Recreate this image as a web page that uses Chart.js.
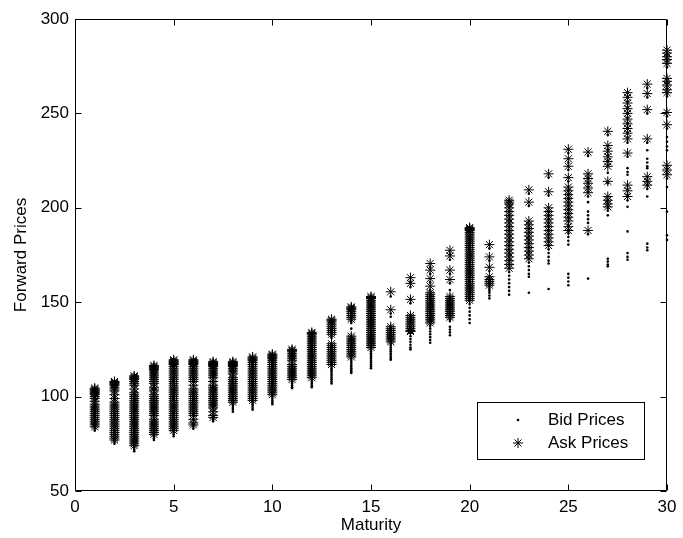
<!DOCTYPE html>
<html><head><meta charset="utf-8">
<script src="https://cdn.jsdelivr.net/npm/chart.js@4/dist/chart.umd.min.js"></script>
<style>html,body{margin:0;padding:0;background:#fff;}</style>
</head><body>
<canvas id="c" width="683" height="538"></canvas>
<script>
// ---- data ----
const maturities = [1,2,3,4,5,6,7,8,9,10,11,12,13,14,15,16,17,18,19,20,21,22,23,24,25,26,27,28,29,30];
const seriesNames = ['Bid Prices', 'Ask Prices'];
const xTicks = [0,5,10,15,20,25,30];
const yTicks = [50,100,150,200,250,300];

const askPrices = [
 [104.5,104,103.5,103,102.5,102,101.5,101,100,99,97.5,96,95,94,93,92,91,90,89,88,87,86,85,84],
 [108,107.5,107,106.5,106,105,104,103,101,99,97,96,95,94,93,92,91,90,89,88,87,86,85,84,83,82,81,80,79,78,77],
 [111,110.5,110,109.5,109,108,107,106,104,102,101,100,99,98,97,96,95,94,93,92,91,90,89,88,87,86,85,84,83,82,81,80,79,78,77,76,75,74],
 [116.5,116,115.5,115,114.5,114,113,112,111,110,109,108,107,105,104,103,101,100,99,98,97,96,95,94,93,92,91,90,88,87,86,85,84,83,82,81,80],
 [119.5,119,118.5,118,117.5,117,116,115,114,113,112,111,110,109,108,107,106,105,104,103,102,101,100,99,98,97,96,95,94,93,92,91,90,89,88,87,86,85,84,83,82],
 [119.5,119,118.5,118,117.5,117,116,115,114,113,112,111,110,109,108,106,104,103,102,101,100,99,98,97,96,95,94,93,92,91,90,88,86,85],
 [118.5,118,117.5,117,116.5,116,115,114,113,112,111,110,108,106,105,104,103,102,101,100,99,98,97,96,95,94,92,90,89],
 [118.5,118,117.5,117,116.5,116,115,114,113,112,110,109,108,107,106,105,104,103,102,101,100,99,98,97],
 [121,120.5,120,119.5,119,118,117,116,115,114,113,112,111,110,109,108,107,106,105,104,103,102,101,100,99,98],
 [122.5,122,121.5,121,120.5,120,119,118,117,116,115,114,113,112,111,110,109,108,107,106,105,104,103,102,101],
 [125,124.5,124,123,122,121,120,119,117,116,115,114,113,112,111,110,109],
 [134,133.5,133,132,131,130,129,128,127,126,125,124,123,122,121,120,119,118,117,116,115,114,113,112,111,110],
 [141,140.5,140,139,138,137,136,135,134,133,128,127,126,125,124,123,122,121,120,119,118,117],
 [147.5,147,146.5,146,145,144,143,142,141,132,131,130,129,128,127,126,125,124,123,122,121],
 [153,152.5,152,151,150,149,148,147,146,145,144,143,142,141,140,139,138,137,136,135,134,133,132,131,130,129,128,127,126],
 [155.5,146,137,136,135,134,133,132,131,130,129],
 [163,160,151.5,143,142,141,140,139,138,137,136,135,134.5],
 [170.5,167,162.5,158.5,155,154,153,152,151,150,149,148,147,146,145,144,143,142,141,140,139],
 [177.5,174.5,167,162,153,152,151,150,149,148,147,146,145,144,143,142],
 [189.5,189,188.5,188,187,186,185,184,183,182,181,180,179,178,177,176,175,174,173,172,171,170,169,168,167,166,165,164,163,162,161,160,159,158,157,156,155,154,153,152,151],
 [180.5,174,168.5,163.5,162,161,160,159],
 [204,203,202,200,198,196,194,192,190,188,186,184,182,180,178,176,174,172,170,168],
 [209.5,203,193,191,189,187,185,183,181,179,177,175,173],
 [218,208.5,200,198,196,194,192,190,188,186,184,182,180],
 [231,226,222,216,211,209,207,205,203,201,199,197,195,193,190,188],
 [229.5,218,215.5,213,210.5,208,188],
 [240.5,233,230,227,224.5,222,214,206,204,202,200.5],
 [261,258.5,255.5,252.5,250,247,244.5,242,239.5,236.5,229,212,209,206],
 [265.5,260.5,252,236.5,216.5,214,212],
 [283.5,282,280,278.5,276.5,268.5,267,265,262.5,261,250.5,244,222.5,220,217.5]
];

const bidPrices = [
 [103,102.5,102,101,100,99,98,96,95,94,93,92,91,90,89,88,87,86,85,84,83,82],
 [106,105,104,103,102,100,98,96,95,94,92,90,88,86,84,82,80,79,78,77,76,75],
 [109,108,107,106,104,102,100,98,96,95,94,93,92,90,88,86,84,82,80,78,77,76,75,74,73,72,71],
 [114,113,112,110,108,106,104,102,100,98,96,95,94,93,92,90,88,86,85,84,83,82,81,80,79,78,77],
 [117,116,115,114,112,110,108,106,104,102,100,98,96,94,92,90,88,86,85,84,83,82,81,80,79],
 [117,116,115,114,112,110,108,106,104,102,100,98,96,94,92,90,88,86,85,84,83],
 [116,115,114,112,110,108,106,104,102,100,98,96,95,94,92,90,89,88,87],
 [116,115,114,113,112,110,108,106,104,102,100,98,97,96,95,94,93,92],
 [119,118,117,116,115,114,112,110,108,106,104,102,100,99,98,97,96,95,94,93],
 [120,119,118,117,116,115,114,112,110,108,106,104,102,101,100,99,98,97,96],
 [123,122,121,120,118,116,114,113,112,111,110,109,108,107,106,105,104.5],
 [132,131,130,128,126,124,122,120,118,116,114,112,111,110,109,108,107,106,105],
 [139,138,136,134,132,131,126,124,122,120,118,117,116,115,114,113,112,111,110,109,108,107],
 [145,144,142,140,139,136,130,128,126,124,122,120,119,118,117,116,115,114,113,112.5],
 [151,150,148,146,144,142,140,138,136,134,132,130,128,127,126,125,124,123,122,121,120,119,118,117,116,115],
 [153,144,142.3,135,133,131,129,128,127,126,125,124,123,122,121,120,119.5],
 [161,158,149.5,141,139,137,135,133.5,132,130.5,129,127.5,126,125],
 [168.5,165,160.5,156.5,153,151,149,147,145,143,141,139,137.5,136,134.5,133,131.5,130,128.5],
 [175.5,172.5,165,160,156.5,151,149,147,145,143,141,140,137,135.5,134,132.5],
 [187,185,183,181,179,177,175,173,171,169,167,165,163,161,159,157,155,153,151,149,147,145,143,141,139],
 [178.5,172,166.5,161.5,159.5,158,157,156,155,153.5,152],
 [202,200,198,196,194,192,190,188,186,184,182,180,178,176,174,172,170,168,166,164,162,160,158,156,154],
 [207.5,201,191,189,187,185,183,181,179,177,175,173,171,169,167,165,163.5,155],
 [216,206.5,198,196,194,192,190,188,186,184,182,180,178,176,174,172,170.5,157],
 [229,224,220,214,209,207,205,203,201,199,197,195,193,191,188,186.5,184.5,182.5,180.5,165,163,161,159],
 [227.5,216,213.5,211,208.5,206,203,198,196,194,192,186,162.5],
 [238.5,231,228,225,222.5,218.5,213,204,202,200,198.5,196,173,171.5,170,169],
 [259,256.5,253.5,250.5,248,245,242.5,240,237.5,234.5,227,221,219,217.5,210,207,204,200.5,187.5,176,174,172.5],
 [263.5,258.5,250,234.5,230.5,226,224,222,221,214.5,212,210,206,181,179,177.5],
 [281.5,280,278,276.5,274.5,266.5,265,263,260.5,259,248.5,242,237.5,235,232.5,230.5,220.5,218,215.5,211,198,185.5,183]
];

// ---- build point lists ----
function toPoints(table){
  const pts = [];
  maturities.forEach((m,i)=>{ table[i].forEach(v=>pts.push({x:m, y:v})); });
  return pts;
}

const FONT = '"Liberation Sans", Arial, Helvetica, sans-serif';
Chart.defaults.color = '#000';
Chart.defaults.font.family = FONT;
Chart.defaults.font.size = 17;

const framePlugin = {
  id: 'frame',
  afterDatasetsDraw(chart){
    const {ctx, chartArea:a, scales:{x, y}} = chart;
    ctx.save();
    ctx.strokeStyle = '#000';
    ctx.lineWidth = 1;
    const L = Math.round(a.left)+0.5, R = Math.round(a.right)-0.5, T = Math.round(a.top)+0.5, B = Math.round(a.bottom)-0.5;
    ctx.beginPath();
    ctx.rect(L, T, R-L, B-T);
    xTicks.forEach(v=>{
      const px = Math.round(x.getPixelForValue(v))+0.5;
      ctx.moveTo(px, B); ctx.lineTo(px, B-6);
      ctx.moveTo(px, T); ctx.lineTo(px, T+6);
    });
    yTicks.forEach(v=>{
      const py = Math.round(y.getPixelForValue(v))+0.5;
      ctx.moveTo(L, py); ctx.lineTo(L+6, py);
      ctx.moveTo(R, py); ctx.lineTo(R-6, py);
    });
    ctx.stroke();
    ctx.restore();
  },
  afterDraw(chart){
    const {ctx} = chart;
    const bx = 477.5, by = 402.5, bw = 167, bh = 57;
    ctx.save();
    ctx.fillStyle = '#fff';
    ctx.fillRect(bx, by, bw, bh);
    ctx.strokeStyle = '#000';
    ctx.lineWidth = 1;
    ctx.strokeRect(bx, by, bw, bh);
    const rows = [420, 443];
    chart.data.datasets.forEach((ds, i)=>{
      ctx.fillStyle = '#000';
      ctx.strokeStyle = '#000';
      ctx.lineWidth = ds.borderWidth || 1;
      Chart.helpers.drawPoint(ctx, {
        pointStyle: ds.pointStyle, radius: ds.pointRadius, rotation: 0, borderWidth: ds.borderWidth
      }, 518, rows[i]);
      ctx.fillStyle = '#000';
      ctx.font = '17px ' + FONT;
      ctx.textAlign = 'left';
      ctx.textBaseline = 'middle';
      ctx.fillText(ds.label, 548, rows[i]);
    });
    ctx.restore();
  }
};

new Chart(document.getElementById('c'), {
  type: 'scatter',
  data: {
    datasets: [
      { label: seriesNames[0], data: toPoints(bidPrices), pointStyle: 'circle', pointRadius: 1.3,
        backgroundColor: '#000', borderColor: '#000', borderWidth: 0, clip: false },
      { label: seriesNames[1], data: toPoints(askPrices), pointStyle: 'star', pointRadius: 5,
        backgroundColor: '#000', borderColor: '#000', borderWidth: 1, clip: false }
    ]
  },
  options: {
    responsive: false,
    animation: false,
    events: [],
    layout: { padding: { left: 0, right: 16, top: 19, bottom: 0 } },
    plugins: { legend: { display: false }, tooltip: { enabled: false } },
    scales: {
      x: {
        type: 'linear', min: 0, max: 30,
        afterFit(s){ s.height = 47; },
        afterBuildTicks(s){ s.ticks = xTicks.map(v=>({value:v})); },
        grid: { display: false, drawTicks: false },
        border: { display: false },
        ticks: { padding: 6, color: '#000', font: { size: 17 } },
        title: { display: true, text: 'Maturity', color: '#000', font: { size: 17 }, padding: { top: 0, bottom: 2 } }
      },
      y: {
        type: 'linear', min: 50, max: 300,
        afterFit(s){ s.width = 75; },
        afterBuildTicks(s){ s.ticks = yTicks.map(v=>({value:v})); },
        grid: { display: false, drawTicks: false },
        border: { display: false },
        ticks: { padding: 6, color: '#000', font: { size: 17 } },
        title: { display: true, text: 'Forward Prices', color: '#000', font: { size: 17 }, padding: { top: 11, bottom: 0 } }
      }
    }
  },
  plugins: [framePlugin]
});
</script>
</body></html>
